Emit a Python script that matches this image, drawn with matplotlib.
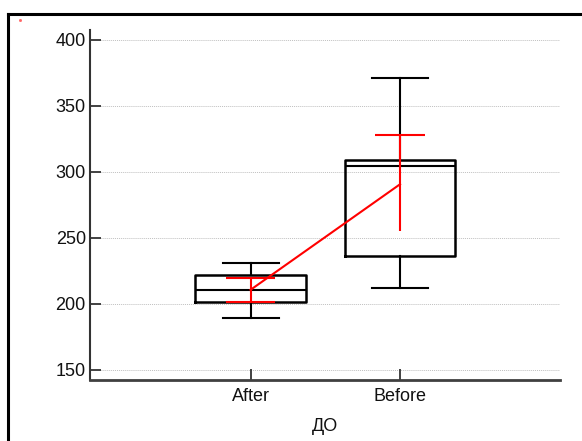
import matplotlib
matplotlib.use("Agg")
import matplotlib.pyplot as plt
from matplotlib.lines import Line2D

plt.rcParams['font.family'] = ['Liberation Sans', 'DejaVu Sans']

categories = ["After", "Before"]
whisker_low = [189, 212]
q1 = [201, 236]
median = [210, 304]
q3 = [222, 309]
whisker_high = [231, 371]
means = [210.5, 290.5]
ci_low = [201, 255]
ci_high = [219.5, 327.5]
yticks = [150, 200, 250, 300, 350, 400]
xlabel = "ДО"

fig = plt.figure(figsize=(5.82, 4.41), dpi=100)
ax = fig.add_axes([90/582, 1-379.7/441, (560-90)/582, (379.7-29.7)/441])

pos = list(range(1, len(categories) + 1))
stats = []
for i, c in enumerate(categories):
    stats.append(dict(label=c, whislo=whisker_low[i], q1=q1[i], med=median[i],
                      q3=q3[i], whishi=whisker_high[i], fliers=[]))
ax.bxp(stats, positions=pos, widths=0.74, capwidths=0.375, showfliers=False,
       boxprops=dict(color='black', linewidth=1.8),
       medianprops=dict(color='black', linewidth=1.5),
       whiskerprops=dict(color='black', linewidth=1.5),
       capprops=dict(color='black', linewidth=1.5))

red = '#ff0000'
ax.plot(pos, means, color=red, linewidth=1.5, zorder=5)
ax.vlines(pos, ci_low, ci_high, color=red, linewidth=1.5, zorder=5)
ax.hlines(ci_high, [p - 0.165 for p in pos], [p + 0.165 for p in pos], color=red, linewidth=1.5, zorder=5)
ax.hlines(ci_low[0], pos[0] - 0.165, pos[0] + 0.165, color=red, linewidth=1.5, zorder=5)

ax.set_xlim(-0.074, 3.07)
ax.set_ylim(142.4, 407.6)
ax.set_yticks(yticks)
ax.set_xticks(pos)
ax.set_xticklabels(categories)
ax.set_xlabel(xlabel, fontsize=13, color='#111111', labelpad=9)
ax.tick_params(axis='both', direction='in', length=8, width=1.3, color='#333333',
               labelsize=13, labelcolor='#111111')
ax.tick_params(axis='x', pad=6)
ax.tick_params(axis='y', pad=3)
# dotted grid starting at the tick ends
ax.hlines(yticks, 9/470, 0.998, transform=ax.get_yaxis_transform(),
          linestyles=[(0, (1, 1))], colors='#c0c0c0', linewidth=0.7, zorder=0)
for s in ['top', 'right']:
    ax.spines[s].set_visible(False)
ax.spines['left'].set_color('#333333')
ax.spines['left'].set_linewidth(1.5)
ax.spines['bottom'].set_color('#404040')
ax.spines['bottom'].set_linewidth(2)

# figure frame
fig.add_artist(Line2D([8/582, 1.01], [1-14/441, 1-14/441], transform=fig.transFigure, color='black', linewidth=2.2))
fig.add_artist(Line2D([8/582, 8/582], [1-14/441, -0.01], transform=fig.transFigure, color='black', linewidth=2.2))
fig.add_artist(Line2D([20/582], [1-20/441], transform=fig.transFigure, marker='s', markersize=1, color='#ff6666', linestyle='none'))

fig.savefig("out.png", dpi=100)
